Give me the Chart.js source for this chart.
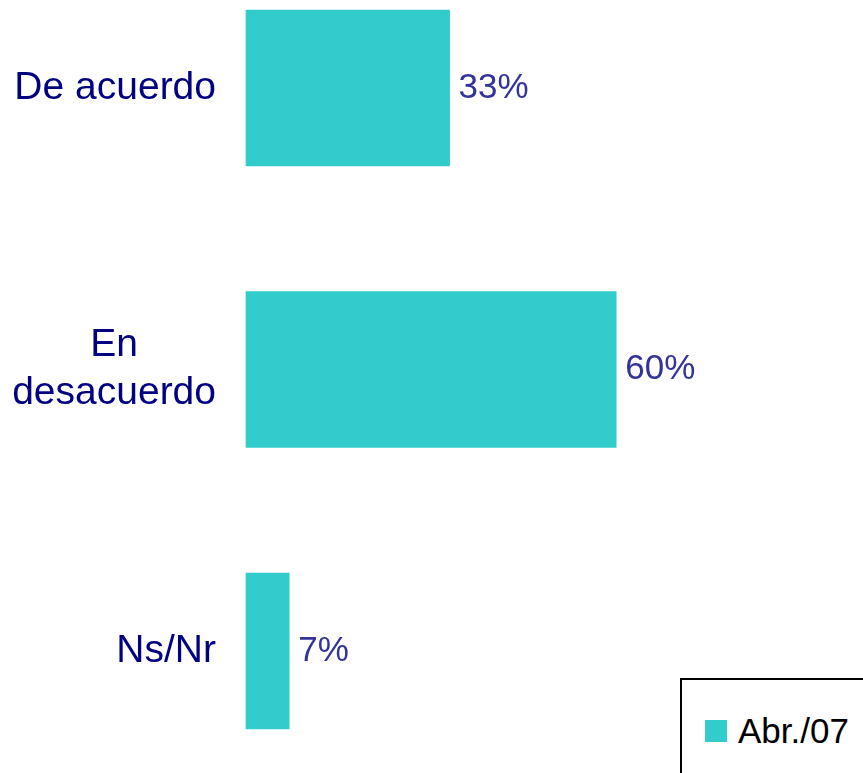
<!DOCTYPE html>
<html>
<head>
<meta charset="utf-8">
<script src="https://cdn.jsdelivr.net/npm/chart.js@4"></script>
<style>
  body { margin: 0; background: #fff; }
  #wrap { position: relative; width: 863px; height: 773px; overflow: hidden; }
  #leyenda {
    position: absolute; left: 680px; top: 678px; width: 220px; height: 140px;
    border: 2px solid #000; box-sizing: border-box; background: #fff;
    font-family: "Liberation Sans", Arial, sans-serif; font-size: 35px; color: #000;
  }
  #leyenda span.cuadro { position: absolute; left: 23px; top: 40px; width: 22px; height: 22px; }
  #leyenda span.texto { position: absolute; left: 56px; top: 31px; line-height: 40px; }
</style>
</head>
<body>
<div id="wrap">
  <canvas id="grafico"></canvas>
  <div id="leyenda"></div>
</div>
<script>
// Datos
const categorias = ['De acuerdo', ['En', 'desacuerdo'], 'Ns/Nr'];
const valores = [33, 60, 7];
const serie = 'Abr./07';
const colorBarra = '#33CCCC';

// Etiquetas del eje (texto centrado por líneas, bloque alineado a la derecha)
const etiquetasEje = {
  id: 'etiquetasEje',
  afterDraw(chart) {
    const ctx = chart.ctx;
    const escala = chart.scales.y;
    ctx.save();
    ctx.font = '39px "Liberation Sans", Arial, sans-serif';
    ctx.fillStyle = '#000080';
    ctx.textAlign = 'center';
    ctx.textBaseline = 'middle';
    const derecha = chart.chartArea.left - 30;
    chart.data.labels.forEach((lab, i) => {
      const lineas = Array.isArray(lab) ? lab : [lab];
      const ancho = Math.max(...lineas.map(l => ctx.measureText(l).width));
      const y = escala.getPixelForTick(i);
      lineas.forEach((l, j) => {
        ctx.fillText(l, derecha - ancho / 2, y + (j - (lineas.length - 1) / 2) * 48);
      });
    });
    ctx.restore();
  }
};

// Valores al final de cada barra
const valoresBarras = {
  id: 'valoresBarras',
  afterDatasetsDraw(chart) {
    const ctx = chart.ctx;
    ctx.save();
    ctx.font = '35px "Liberation Sans", Arial, sans-serif';
    ctx.fillStyle = '#333399';
    ctx.textAlign = 'left';
    ctx.textBaseline = 'middle';
    chart.getDatasetMeta(0).data.forEach((bar, i) => {
      ctx.fillText(valores[i] + '%', bar.x + 9, bar.y);
    });
    ctx.restore();
  }
};

const ctx = document.getElementById('grafico').getContext('2d');
const chart = new Chart(ctx, {
  type: 'bar',
  data: {
    labels: categorias,
    datasets: [{
      label: serie,
      data: valores,
      backgroundColor: colorBarra,
      borderWidth: 0,
      barThickness: 156,
      clip: false
    }]
  },
  options: {
    indexAxis: 'y',
    responsive: true,
    maintainAspectRatio: false,
    animation: false,
    layout: { padding: { top: 88, bottom: 122, left: 0, right: 0 } },
    scales: {
      x: { display: false, min: 0, max: 100 },
      y: {
        offset: false,
        grid: { display: false },
        border: { display: false },
        ticks: { display: false },
        afterFit(scale) { scale.width = 246; }
      }
    },
    plugins: {
      legend: { display: false },
      tooltip: { enabled: false }
    }
  },
  plugins: [etiquetasEje, valoresBarras]
});

// Leyenda
const leyenda = document.getElementById('leyenda');
chart.data.datasets.forEach(ds => {
  leyenda.innerHTML = `<span class="cuadro" style="background:${ds.backgroundColor}"></span><span class="texto">${ds.label}</span>`;
});
</script>
</body>
</html>
